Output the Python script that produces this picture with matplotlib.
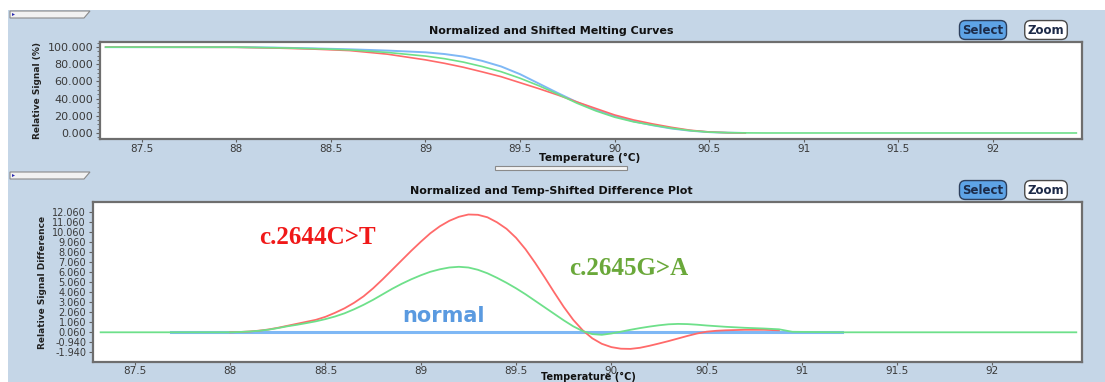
import matplotlib.pyplot as plt
import numpy as np
import matplotlib.ticker as mticker
from matplotlib.patches import Rectangle, Polygon

# normalized and shifted melting curves, relative signal (%)
melt_temp = [87.31, 88.0, 88.2, 88.4, 88.6, 88.8, 89.0, 89.1, 89.2, 89.3, 89.4, 89.5,
             89.6, 89.7, 89.8, 89.9, 90.0, 90.1, 90.2, 90.3, 90.4, 90.5, 90.6, 90.69]
melt_blue = [100.0, 100.0, 99.5, 98.6, 97.5, 96.0, 94.0, 92.0, 89.0, 84.0, 77.5, 68.5,
             57.5, 46.5, 36.0, 27.0, 19.6, 13.6, 9.0, 5.2, 2.6, 1.0, 0.3, 0.0]
melt_red = [100.0, 99.8, 99.0, 97.8, 96.0, 91.8, 85.2, 81.2, 76.6, 71.2, 65.6, 58.6,
            51.6, 44.2, 36.2, 28.6, 21.0, 15.2, 10.6, 6.6, 3.2, 1.2, 0.3, 0.0]
melt_temp_green = [87.31, 88.0, 88.2, 88.4, 88.6, 88.8, 89.0, 89.1, 89.2, 89.3, 89.4, 89.5,
                   89.6, 89.7, 89.8, 89.9, 90.0, 90.1, 90.2, 90.3, 90.4, 90.5, 90.6, 90.7,
                   90.8, 92.44]
melt_green = [100.0, 100.0, 99.3, 98.3, 96.8, 93.8, 89.6, 86.6, 82.6, 77.4, 71.4, 63.8,
              55.0, 45.2, 34.8, 25.8, 18.4, 13.0, 9.2, 5.6, 2.8, 1.0, 0.4, 0.1, 0.0, 0.0]

# temp-shifted difference plot, relative signal difference
diff_temp_blue = [87.69, 91.21]
diff_blue = [0.0, 0.0]
diff_temp_red = [88.0, 88.05, 88.1, 88.15, 88.2, 88.25, 88.3, 88.35, 88.4, 88.45, 88.5,
                 88.55, 88.6, 88.65, 88.7, 88.75, 88.8, 88.85, 88.9, 88.95, 89.0, 89.05,
                 89.1, 89.15, 89.2, 89.25, 89.3, 89.35, 89.4, 89.45, 89.5, 89.55, 89.6,
                 89.65, 89.7, 89.75, 89.8, 89.85, 89.9, 89.95, 90.0, 90.05, 90.1, 90.15,
                 90.2, 90.25, 90.3, 90.35, 90.4, 90.45, 90.5, 90.55, 90.6, 90.7, 90.8, 90.88]
diff_red = [0.0, 0.03, 0.08, 0.16, 0.28, 0.45, 0.65, 0.85, 1.05, 1.25, 1.55,
            1.95, 2.4, 2.95, 3.6, 4.4, 5.3, 6.25, 7.2, 8.15, 9.05, 9.9,
            10.6, 11.15, 11.55, 11.78, 11.75, 11.5, 11.0, 10.35, 9.45, 8.3, 6.95,
            5.5, 4.0, 2.55, 1.25, 0.2, -0.6, -1.15, -1.48, -1.64, -1.66, -1.55,
            -1.35, -1.12, -0.88, -0.62, -0.36, -0.12, 0.06, 0.15, 0.2, 0.25, 0.25, 0.2]
diff_temp_green = [87.32, 88.0, 88.05, 88.1, 88.15, 88.2, 88.25, 88.3, 88.35, 88.4, 88.45,
                   88.5, 88.55, 88.6, 88.65, 88.7, 88.75, 88.8, 88.85, 88.9, 88.95, 89.0,
                   89.05, 89.1, 89.15, 89.2, 89.25, 89.3, 89.35, 89.4, 89.45, 89.5, 89.55,
                   89.6, 89.65, 89.7, 89.75, 89.8, 89.85, 89.9, 89.95, 90.0, 90.05, 90.1,
                   90.15, 90.2, 90.25, 90.3, 90.35, 90.4, 90.45, 90.5, 90.6, 90.7, 90.8,
                   90.88, 90.95, 91.2, 92.44]
diff_green = [0.0, 0.0, 0.03, 0.08, 0.15, 0.26, 0.42, 0.6, 0.75, 0.92, 1.1,
              1.32, 1.58, 1.9, 2.3, 2.75, 3.25, 3.8, 4.35, 4.85, 5.3, 5.7,
              6.05, 6.3, 6.48, 6.55, 6.48, 6.25, 5.9, 5.45, 4.95, 4.4, 3.8,
              3.15, 2.5, 1.85, 1.2, 0.6, 0.12, -0.18, -0.25, -0.12, 0.06, 0.25,
              0.42, 0.57, 0.7, 0.8, 0.84, 0.82, 0.76, 0.68, 0.55, 0.45, 0.38,
              0.3, 0.05, 0.0, 0.0]

x_ticks = [87.5, 88, 88.5, 89, 89.5, 90, 90.5, 91, 91.5, 92]
x_labels = ['87.5', '88', '88.5', '89', '89.5', '90', '90.5', '91', '91.5', '92']
melt_yticks = [0, 20, 40, 60, 80, 100]
diff_yticks = [-1.94, -0.94, 0.06, 1.06, 2.06, 3.06, 4.06, 5.06, 6.06, 7.06, 8.06,
               9.06, 10.06, 11.06, 12.06]

c_blue = '#7fb8f5'
c_red = '#ff6a6a'
c_green = '#6ee08a'
panel_bg = '#c5d6e7'
txt = '#3a3a3a'
W, H = 1105, 382


def fx(px):
    return px / W


def fy(py):
    return 1 - py / H


def style_axes(ax, yticks, ylabels, ylim, ysize):
    ax.set_xlim(87.28, 92.47)
    ax.set_ylim(*ylim)
    ax.xaxis.set_major_locator(mticker.FixedLocator(x_ticks))
    ax.set_xticklabels(x_labels)
    ax.yaxis.set_major_locator(mticker.FixedLocator(yticks))
    ax.set_yticklabels(ylabels)
    ax.tick_params(axis='both', colors='#606060', labelcolor=txt, width=0.8)
    ax.tick_params(axis='x', labelsize=7.5, length=2.5, pad=1)
    ax.tick_params(axis='y', labelsize=ysize, length=3, pad=2)
    for s in ax.spines.values():
        s.set_color('#6e6e6e')
        s.set_linewidth(1.6)


def add_tab(fig, top):
    pts = [(fx(10), fy(top)), (fx(90), fy(top)), (fx(84), fy(top + 7)), (fx(10), fy(top + 7))]
    fig.patches.append(Polygon(pts, closed=True, transform=fig.transFigure,
                               fc='#f2f2f2', ec='#8a8a8a', lw=0.8))
    fig.patches.append(Polygon([(fx(12), fy(top + 2)), (fx(12), fy(top + 5)), (fx(15), fy(top + 3.5))],
                               closed=True, transform=fig.transFigure, fc='#2a2ab0', ec='none'))


def add_buttons(fig, yc):
    fig.text(fx(983), fy(yc), 'Select', ha='center', va='center', fontsize=8.5,
             fontweight='bold', color='#1c2a48',
             bbox=dict(boxstyle='round,pad=0.25,rounding_size=0.5', fc='#5ea3e6', ec='#2c3e5c', lw=1))
    fig.text(fx(1046), fy(yc), 'Zoom', ha='center', va='center', fontsize=8.5,
             fontweight='bold', color='#1c2a48',
             bbox=dict(boxstyle='round,pad=0.25,rounding_size=0.5', fc='white', ec='#4a4a4a', lw=1))


fig = plt.figure(figsize=(W / 100, H / 100), dpi=100, facecolor=panel_bg)

# white margin along the top and left edges
fig.patches.append(Rectangle((0, fy(10)), 1, 10 / H, transform=fig.transFigure,
                             fc='white', ec='none'))
fig.patches.append(Rectangle((0, 0), fx(8), 1, transform=fig.transFigure,
                             fc='white', ec='none'))
add_tab(fig, 11)
add_tab(fig, 172)

# slider between the panels
fig.patches.append(Rectangle((fx(495), fy(170)), fx(132), 4 / H, transform=fig.transFigure,
                             fc='#f4f4f4', ec='#8a8a8a', lw=0.8))

# top panel: melting curves
ax = fig.add_axes([fx(100), fy(139), fx(982), 97 / H])
ax.plot(melt_temp, melt_blue, color=c_blue, lw=1.4)
ax.plot(melt_temp, melt_red, color=c_red, lw=1.2)
ax.plot(melt_temp_green, melt_green, color=c_green, lw=1.2)
style_axes(ax, melt_yticks, ['%.3f' % v for v in melt_yticks], (-7, 106), 8)
ax.yaxis.set_minor_locator(mticker.MultipleLocator(5))
ax.tick_params(axis='y', which='minor', length=2, color='#606060')
ax.set_ylabel('Relative Signal (%)', fontsize=6.5, fontweight='bold', color='#222222',
              family=['Liberation Sans Narrow', 'DejaVu Sans'], labelpad=4)
fig.text(fx(551), fy(31), 'Normalized and Shifted Melting Curves', ha='center', va='center',
         fontsize=8, fontweight='bold', color='#111111')
fig.text(fx(590), fy(158), 'Temperature (°C)', ha='center', va='center',
         fontsize=7.5, fontweight='bold', color='#111111')
add_buttons(fig, 30)

# bottom panel: difference plot
ax2 = fig.add_axes([fx(93), fy(362), fx(989), 160 / H])
ax2.plot(diff_temp_blue, diff_blue, color=c_blue, lw=2.2)
ax2.plot(diff_temp_red, diff_red, color=c_red, lw=1.3)
ax2.plot(diff_temp_green, diff_green, color=c_green, lw=1.3)
style_axes(ax2, diff_yticks, ['%.3f' % v for v in diff_yticks], (-2.97, 13.03), 7)
ax2.tick_params(axis='x', pad=0.5)
ax2.set_ylabel('Relative Signal Difference', fontsize=6.5, fontweight='bold', color='#222222',
               family=['Liberation Sans Narrow', 'DejaVu Sans'], labelpad=4)
fig.text(fx(551), fy(191), 'Normalized and Temp-Shifted Difference Plot', ha='center',
         va='center', fontsize=8, fontweight='bold', color='#111111')
fig.text(fx(588), fy(379.5), 'Temperature (°C)', ha='center', va='baseline',
         fontsize=7, fontweight='bold', color='#111111')
add_buttons(fig, 190)

ax2.text(88.46, 9.5, 'c.2644C>T', color='#f01818', fontsize=18, fontweight='bold',
         family='Liberation Serif', ha='center', va='center')
ax2.text(90.09, 6.36, 'c.2645G>A', color='#6aa83a', fontsize=18, fontweight='bold',
         family='Liberation Serif', ha='center', va='center')
ax2.text(89.12, 1.66, 'normal', color='#5a9ae0', fontsize=15, fontweight='bold',
         ha='center', va='center')

plt.savefig('out.png', dpi=100, facecolor=panel_bg)
